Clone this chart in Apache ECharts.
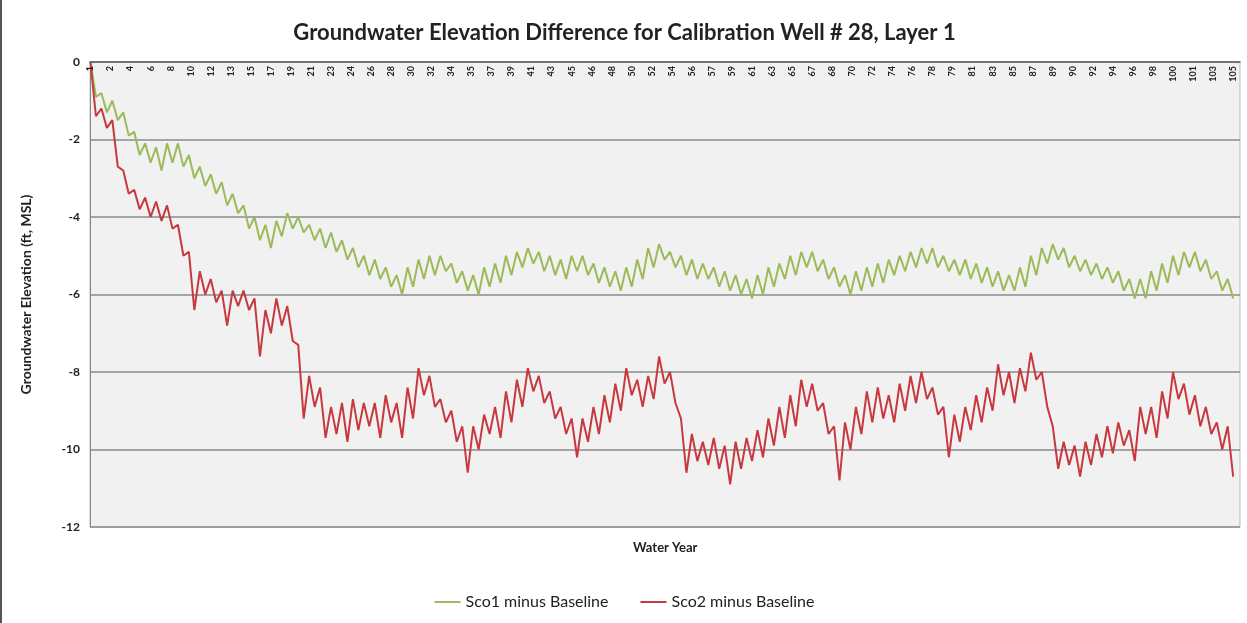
<!DOCTYPE html>
<html>
<head>
<meta charset="utf-8">
<script src="https://cdn.jsdelivr.net/npm/echarts@6/dist/echarts.min.js"></script>
<style>
  html, body { margin: 0; padding: 0; background: #fff; }
  #Chart { width: 1247px; height: 623px; box-sizing: border-box; border-left: 2px solid #555; }
</style>
</head>
<body>
<div id="Chart"></div>
<script>
// water-year labels shown along the top axis (Excel shows every 22nd month)
const yearLabels = [1, 2, 4, 6, 8, 10, 12, 13, 15, 17, 19, 21, 23, 24, 26, 28, 30, 32, 34, 35,
  37, 39, 41, 43, 45, 46, 48, 50, 52, 54, 56, 57, 59, 61, 63, 65, 67, 68, 70, 72,
  74, 76, 78, 79, 81, 83, 85, 87, 89, 90, 92, 94, 96, 98, 100, 101, 103, 105]
const labelStepMonths = 22
const sampleStepMonths = 6 // one value every half year
const totalMonths = 1262

// Sco1 minus Baseline (ft), half-year samples
const sco1 = [
  0, -0.9, -0.8, -1.3, -1.0, -1.5, -1.3, -1.9, -1.8, -2.4,
  -2.1, -2.6, -2.2, -2.8, -2.1, -2.6, -2.1, -2.7, -2.4, -3.0,
  -2.7, -3.2, -2.9, -3.4, -3.1, -3.7, -3.4, -3.9, -3.7, -4.3,
  -4.0, -4.6, -4.2, -4.8, -4.1, -4.5, -3.9, -4.3, -4.0, -4.4,
  -4.2, -4.6, -4.3, -4.8, -4.4, -4.9, -4.6, -5.1, -4.8, -5.3,
  -5.0, -5.5, -5.1, -5.6, -5.3, -5.8, -5.5, -6.0, -5.3, -5.8,
  -5.1, -5.6, -5.0, -5.5, -5.0, -5.4, -5.2, -5.7, -5.4, -5.9,
  -5.5, -6.0, -5.3, -5.8, -5.2, -5.7, -5.0, -5.5, -4.9, -5.3,
  -4.8, -5.2, -4.9, -5.4, -5.0, -5.5, -5.1, -5.6, -5.0, -5.4,
  -5.0, -5.5, -5.2, -5.7, -5.3, -5.8, -5.4, -5.9, -5.3, -5.8,
  -5.1, -5.6, -4.8, -5.3, -4.7, -5.1, -4.9, -5.3, -5.0, -5.5,
  -5.1, -5.6, -5.2, -5.6, -5.3, -5.8, -5.4, -5.9, -5.5, -6.0,
  -5.6, -6.1, -5.5, -6.0, -5.3, -5.8, -5.2, -5.6, -5.0, -5.5,
  -4.9, -5.3, -4.9, -5.4, -5.1, -5.6, -5.3, -5.8, -5.5, -6.0,
  -5.4, -5.9, -5.3, -5.8, -5.2, -5.7, -5.1, -5.5, -5.0, -5.4,
  -4.9, -5.3, -4.8, -5.2, -4.8, -5.3, -5.0, -5.4, -5.1, -5.5,
  -5.1, -5.6, -5.2, -5.7, -5.3, -5.8, -5.4, -5.9, -5.5, -5.9,
  -5.3, -5.8, -5.0, -5.5, -4.8, -5.2, -4.7, -5.1, -4.8, -5.3,
  -5.0, -5.4, -5.1, -5.5, -5.2, -5.6, -5.3, -5.7, -5.4, -5.9,
  -5.6, -6.1, -5.6, -6.1, -5.4, -5.9, -5.2, -5.7, -5.0, -5.5,
  -4.9, -5.3, -4.9, -5.4, -5.1, -5.6, -5.4, -5.9, -5.6, -6.1
]

// Sco2 minus Baseline (ft), half-year samples
const sco2 = [
  0, -1.4, -1.2, -1.7, -1.5, -2.7, -2.8, -3.4, -3.3, -3.8,
  -3.5, -4.0, -3.6, -4.1, -3.7, -4.3, -4.2, -5.0, -4.9, -6.4,
  -5.4, -6.0, -5.6, -6.2, -5.9, -6.8, -5.9, -6.3, -5.9, -6.4,
  -6.1, -7.6, -6.4, -7.0, -6.1, -6.8, -6.3, -7.2, -7.3, -9.2,
  -8.1, -8.9, -8.4, -9.7, -8.9, -9.6, -8.8, -9.8, -8.7, -9.5,
  -8.8, -9.4, -8.8, -9.7, -8.6, -9.3, -8.8, -9.7, -8.4, -9.2,
  -7.9, -8.6, -8.1, -8.9, -8.7, -9.3, -9.0, -9.8, -9.4, -10.6,
  -9.4, -10.0, -9.1, -9.6, -8.9, -9.7, -8.5, -9.3, -8.2, -8.9,
  -7.9, -8.5, -8.1, -8.8, -8.5, -9.2, -8.9, -9.6, -9.2, -10.2,
  -9.2, -9.8, -8.9, -9.6, -8.6, -9.3, -8.3, -9.0, -7.9, -8.6,
  -8.2, -8.9, -8.1, -8.7, -7.6, -8.3, -8.0, -8.8, -9.2, -10.6,
  -9.6, -10.3, -9.8, -10.4, -9.7, -10.5, -9.9, -10.9, -9.8, -10.5,
  -9.7, -10.3, -9.5, -10.2, -9.2, -9.9, -8.9, -9.7, -8.6, -9.4,
  -8.2, -8.9, -8.3, -9.0, -8.8, -9.6, -9.4, -10.8, -9.3, -10.0,
  -8.9, -9.6, -8.5, -9.3, -8.4, -9.2, -8.6, -9.3, -8.3, -9.0,
  -8.1, -8.8, -8.0, -8.7, -8.4, -9.1, -8.9, -10.2, -9.1, -9.8,
  -8.9, -9.5, -8.6, -9.3, -8.4, -9.0, -7.8, -8.6, -8.0, -8.8,
  -7.9, -8.5, -7.5, -8.2, -8.0, -8.9, -9.4, -10.5, -9.8, -10.4,
  -9.9, -10.7, -9.8, -10.4, -9.6, -10.2, -9.4, -10.1, -9.3, -9.9,
  -9.5, -10.3, -8.9, -9.6, -8.9, -9.7, -8.5, -9.2, -8.0, -8.7,
  -8.3, -9.1, -8.6, -9.4, -8.9, -9.6, -9.3, -10.0, -9.4, -10.7
]

const yTicks = { min: -12, max: 0, interval: 2 }

const toPoints = arr => arr.map((v, i) => [i * sampleStepMonths + 0.5, v])
const labelPos = yearLabels.map((_, i) => i * labelStepMonths + 0.5)

const font = "Lato, 'Liberation Sans', sans-serif"
const chart = echarts.init(document.getElementById("Chart"), null, { renderer: "canvas" })

let option = {
  animation: false,
  textStyle: { fontFamily: font },
  title: [
    {
      text: "Groundwater Elevation Difference for Calibration Well # 28, Layer 1",
      left: "center",
      top: 17,
      textStyle: { fontSize: 22, fontWeight: "bold", color: "#222", fontFamily: font }
    },
    {
      text: "Water Year",
      left: 626,
      top: 536,
      textStyle: { fontSize: 13, fontWeight: "bold", color: "#222", fontFamily: font }
    }
  ],
  legend: {
    bottom: 8,
    left: "center",
    icon: "rect",
    itemWidth: 26,
    itemHeight: 2,
    itemGap: 32,
    textStyle: { fontSize: 16, color: "#222", fontFamily: font },
    data: [ "Sco1 minus Baseline", "Sco2 minus Baseline" ]
  },
  grid: {
    left: 88,
    right: 7,
    top: 62,
    bottom: 96,
    show: true,
    backgroundColor: "#f1f1f1",
    borderColor: "#bbb",
    borderWidth: 1
  },
  xAxis: {
    type: "value",
    position: "top",
    z: 5,
    min: 0,
    max: totalMonths,
    axisLine: { show: true, lineStyle: { color: "#666", width: 1.5 } },
    axisTick: { show: false },
    splitLine: { show: false },
    axisLabel: {
      inside: true,
      rotate: 90,
      fontSize: 9,
      fontWeight: "bold",
      color: "#222",
      margin: 4,
      showMinLabel: true,
      hideOverlap: false,
      customValues: labelPos,
      formatter: (val) => String(yearLabels[Math.round((val - 0.5) / labelStepMonths)])
    }
  },
  yAxis: {
    type: "value",
    min: yTicks.min,
    max: yTicks.max,
    interval: yTicks.interval,
    name: "Groundwater Elevation (ft, MSL)",
    nameLocation: "middle",
    nameRotate: 90,
    nameGap: 57,
    nameTextStyle: { fontSize: 14, fontWeight: "bold", color: "#222", fontFamily: font },
    axisLine: { show: true, lineStyle: { color: "#888" } },
    axisTick: { show: false },
    axisLabel: { fontSize: 12, fontWeight: "bold", color: "#222", margin: 10, hideOverlap: false },
    splitLine: { show: true, lineStyle: { color: "#8a8a8a", width: 1.5 } }
  },
  series: [
    {
      name: "Sco1 minus Baseline",
      type: "line",
      showSymbol: false,
      color: "#9bbb59",
      lineStyle: { width: 2 },
      data: toPoints(sco1)
    },
    {
      name: "Sco2 minus Baseline",
      type: "line",
      showSymbol: false,
      color: "#c8393f",
      lineStyle: { width: 2 },
      data: toPoints(sco2)
    }
  ]
}
chart.setOption(option)
</script>
</body>
</html>
